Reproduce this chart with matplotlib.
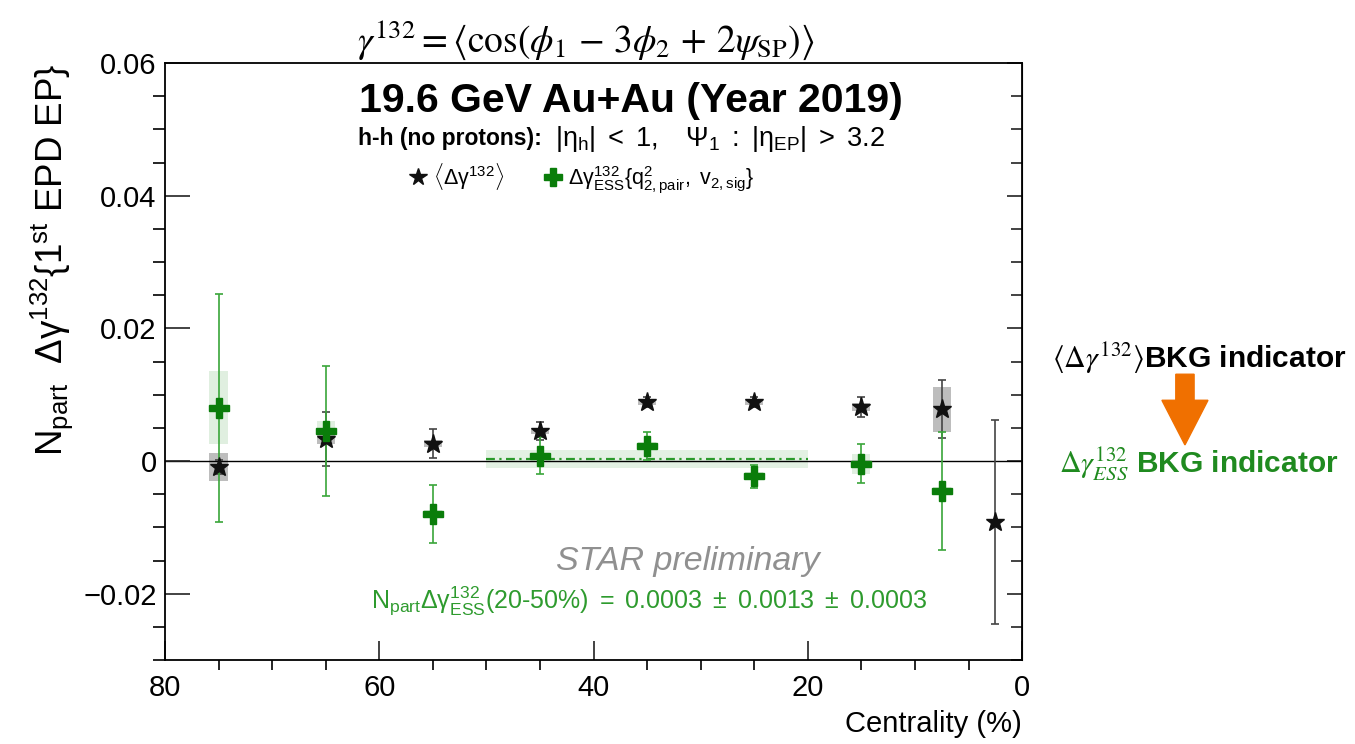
import matplotlib
matplotlib.use("Agg")
import matplotlib.pyplot as plt
from matplotlib.lines import Line2D
from matplotlib.font_manager import FontProperties
import numpy as np

plt.rcParams['font.family'] = ['Liberation Sans', 'DejaVu Sans']
plt.rcParams['mathtext.fontset'] = 'custom'
plt.rcParams['mathtext.rm'] = 'Liberation Sans'
plt.rcParams['mathtext.it'] = 'Liberation Sans:italic'
plt.rcParams['mathtext.bf'] = 'Liberation Sans:bold'

# <Delta gamma^132> points
cent_inc = [75, 65, 55, 45, 35, 25, 15, 7.5, 2.5]
dg_inc = [-0.0009, 0.0033, 0.0026, 0.0045, 0.0089, 0.0089, 0.0081, 0.0078, -0.0092]
dg_inc_stat = [0.0010, 0.0041, 0.0022, 0.0014, 0.0008, 0.0008, 0.0015, 0.0044, 0.0154]
dg_inc_sys = [0.0021, 0.0008, 0.0005, 0.0005, 0.0005, 0.0005, 0.0006, 0.0034, 0.0]

# Delta gamma^132_ESS points
cent_ess = [75, 65, 55, 45, 35, 25, 15, 7.5]
dg_ess = [0.0080, 0.0045, -0.0080, 0.0008, 0.0023, -0.0023, -0.0004, -0.0045]
dg_ess_stat = [0.0172, 0.0098, 0.0044, 0.0028, 0.0021, 0.0017, 0.0029, 0.0089]
dg_ess_sys = [0.0055, 0.0015, 0.0006, 0.0006, 0.0006, 0.0006, 0.0015, 0.0006]

# 20-50% combined result
avg_range = [50, 20]
avg_val = 0.0003
avg_stat = 0.0013
avg_sys = 0.0003

fig = plt.figure(figsize=(13.55, 7.44), dpi=100)
ax = fig.add_axes([0.1218, 0.1129, 0.6325, 0.8024])

black = '#111111'
green = '#0a7d0a'
lgreen = '#3aa63a'

ax.axhline(0, color='black', lw=1.0, zorder=1)

# combined band and value
avg_err = np.hypot(avg_stat, avg_sys)
ax.fill_between(avg_range, avg_val - avg_err, avg_val + avg_err,
                color='#e3f1e3', lw=0, zorder=0)
ax.plot(avg_range, [avg_val, avg_val], color='#2a9a2a', lw=1.6,
        ls=(0, (4, 2, 1, 2)), zorder=1)

# systematic boxes
ax.bar(cent_ess, 2 * np.array(dg_ess_sys), bottom=np.array(dg_ess) - dg_ess_sys,
       width=1.7, color='#e0efe0', lw=0, zorder=0)
ax.bar(cent_inc, 2 * np.array(dg_inc_sys), bottom=np.array(dg_inc) - dg_inc_sys,
       width=1.7, color='#bdbdbd', lw=0, zorder=0)

ax.errorbar(cent_inc, dg_inc, yerr=dg_inc_stat, fmt='none', ecolor='#444444',
            elinewidth=1.2, capsize=3, capthick=1.2, zorder=2)
ax.errorbar(cent_ess, dg_ess, yerr=dg_ess_stat, fmt='none', ecolor=lgreen,
            elinewidth=1.2, capsize=3, capthick=1.2, zorder=3)
ax.plot(cent_inc, dg_inc, ls='none', marker='*', ms=14, color=black,
        mec=black, zorder=4)
ax.plot(cent_ess, dg_ess, ls='none', marker='P', ms=15, color=green,
        mec=green, zorder=5)

ax.set_xlim(80, 0)
ax.set_ylim(-0.03, 0.06)
ax.set_xticks([80, 60, 40, 20, 0])
ax.set_xticks(np.arange(0, 81, 5), minor=True)
ax.set_yticks([-0.02, 0, 0.02, 0.04, 0.06])
ax.set_yticks(np.arange(-0.03, 0.0601, 0.005), minor=True)
ax.set_yticklabels(['\u22120.02', '0', '0.02', '0.04', '0.06'])
ax.tick_params(axis='both', labelsize=21, direction='in', color='#222222')
ax.tick_params(axis='y', which='major', length=18, width=1.2, pad=6)
ax.tick_params(axis='y', which='minor', length=9, width=1.2)
ax.tick_params(axis='x', which='major', length=14, width=1.2, pad=10)
ax.tick_params(axis='x', which='minor', length=7, width=1.2)
for s in ax.spines.values():
    s.set_linewidth(1.3)

right = ax.secondary_yaxis('right')
right.set_yticks([-0.02, 0, 0.02, 0.04, 0.06])
right.set_yticks(np.arange(-0.03, 0.0601, 0.005), minor=True)
right.tick_params(direction='in', labelright=False, length=11, width=1.2,
                  color='#222222')
right.tick_params(which='minor', direction='in', length=8, width=1.2,
                  color='#222222')

ax.set_ylabel(r'$\mathrm{N_{part}\ \ Δγ^{132}\{1^{st}\ EPD\ EP\}}$',
              fontsize=26.5, loc='top', labelpad=6)
ax.set_xlabel('Centrality (%)', fontsize=21, loc='right', labelpad=6)

fig.text(0.432, 0.946,
         r'$\gamma^{132} = \langle\cos(\phi_1\, -\, 3\phi_2\, +\, 2\psi_{\rm SP})\rangle$',
         fontsize=27, ha='center', va='center', math_fontfamily='stix')

ax.text(0.544, 0.937, '19.6 GeV Au+Au (Year 2019)', transform=ax.transAxes,
        fontsize=29.5, fontweight='bold', ha='center', va='center')
ax.text(0.225, 0.873, 'h-h (no protons):', transform=ax.transAxes,
        fontsize=16.5, fontweight='bold', ha='left', va='center')
ax.text(0.455, 0.873,
        r'$\mathrm{|η_{h}|\ <\ 1,\quad Ψ_{1}\ :\ |η_{EP}|\ >\ 3.2}$',
        transform=ax.transAxes, fontsize=19.5, ha='left', va='center')

handles = [Line2D([], [], ls='none', marker='*', ms=13, color=black),
           Line2D([], [], ls='none', marker='P', ms=13, color=green)]
labels = [r'$\mathrm{\langleΔγ^{132}\rangle}$',
          r'$\mathrm{Δγ^{132}_{ESS}\{q^{2}_{2,pair},\ v_{2,sig}\}}$']
ax.legend(handles, labels, loc='center left', bbox_to_anchor=(0.262, 0.807),
          ncol=2, frameon=False, handlelength=0.8, handletextpad=0.3,
          columnspacing=1.9, prop=FontProperties(family='Liberation Sans', size=15.5))

ax.text(0.61, 0.165, 'STAR preliminary', transform=ax.transAxes,
        fontsize=24.5, style='italic', color='#909090', ha='center', va='center')
ax.text(0.565, 0.098,
        r'$\mathrm{N_{part}Δγ^{132}_{ESS}(20\text{-}50\%)\ =\ 0.0003\ \pm\ 0.0013\ \pm\ 0.0003}$',
        transform=ax.transAxes, fontsize=18, color='#2e9b2e',
        ha='center', va='center')

# background indicator annotations
fig.text(0.9935, 0.518,
         r'$\langle\Delta\gamma^{132}\rangle$' + 'BKG indicator',
         fontsize=21.5, fontweight='bold', ha='right', va='center',
         math_fontfamily='stix')
fig.text(0.9875, 0.377,
         r'$\Delta\gamma^{132}_{ESS}$' + ' BKG indicator',
         fontsize=21.5, fontweight='bold', color='#1f8a1f', ha='right',
         va='center', math_fontfamily='stix')
fig.patches.append(matplotlib.patches.FancyArrow(
    0.8745, 0.497, 0, -0.095, width=0.0135, head_width=0.034,
    head_length=0.06, length_includes_head=True, color='#f07000',
    transform=fig.transFigure, figure=fig))

fig.savefig('out.png', dpi=100)
